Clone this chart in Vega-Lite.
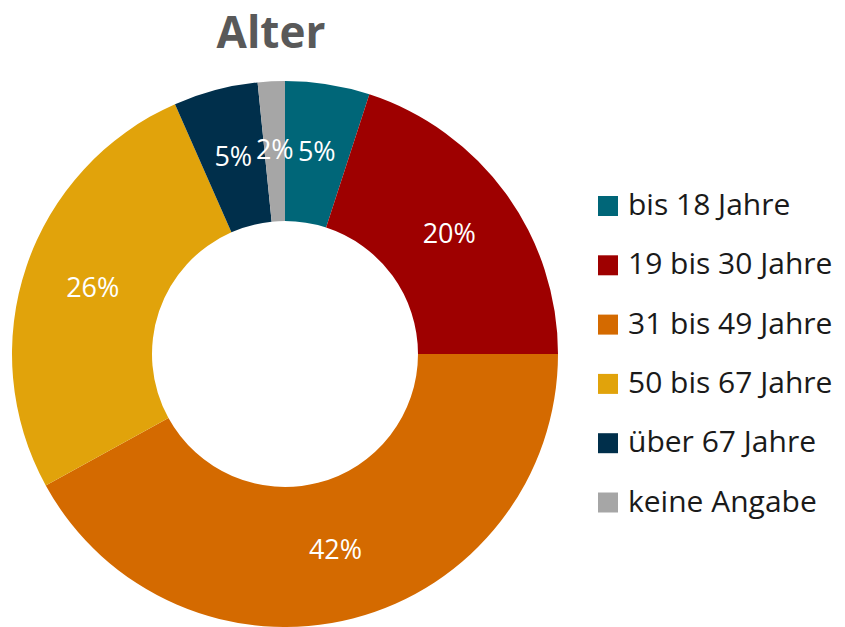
{
  "$schema": "https://vega.github.io/schema/vega-lite/v6.json",
  "width": 570,
  "height": 546,
  "autosize": {"type": "none"},
  "padding": {"left": 0, "top": 81, "right": 275, "bottom": 0},
  "background": "white",
  "title": {
    "text": "Alter",
    "font": "Open Sans",
    "fontSize": 44,
    "fontWeight": "bold",
    "color": "#595959",
    "anchor": "middle",
    "dx": -14,
    "offset": 24
  },
  "data": {
    "values": [
      {"idx": 1, "gruppe": "bis 18 Jahre", "anteil": 5.0, "label": "5%"},
      {"idx": 2, "gruppe": "19 bis 30 Jahre", "anteil": 20.0, "label": "20%"},
      {"idx": 3, "gruppe": "31 bis 49 Jahre", "anteil": 42.0, "label": "42%"},
      {"idx": 4, "gruppe": "50 bis 67 Jahre", "anteil": 26.4, "label": "26%"},
      {"idx": 5, "gruppe": "über 67 Jahre", "anteil": 5.0, "label": "5%"},
      {"idx": 6, "gruppe": "keine Angabe", "anteil": 1.6, "label": "2%"}
    ]
  },
  "encoding": {
    "theta": {"field": "anteil", "type": "quantitative", "stack": true},
    "order": {"field": "idx", "type": "quantitative"}
  },
  "layer": [
    {
      "mark": {"type": "arc", "outerRadius": 273, "innerRadius": 133},
      "encoding": {
        "color": {
          "field": "gruppe",
          "type": "nominal",
          "sort": ["bis 18 Jahre", "19 bis 30 Jahre", "31 bis 49 Jahre", "50 bis 67 Jahre", "über 67 Jahre", "keine Angabe"],
          "scale": {
            "domain": ["bis 18 Jahre", "19 bis 30 Jahre", "31 bis 49 Jahre", "50 bis 67 Jahre", "über 67 Jahre", "keine Angabe"],
            "range": ["#006678", "#9E0000", "#D46A00", "#E1A30B", "#002F4B", "#A6A6A6"]
          },
          "legend": {
            "title": null,
            "orient": "none",
            "legendX": 593,
            "legendY": 110,
            "symbolType": "square",
            "symbolSize": 400,
            "symbolStrokeWidth": 0,
            "labelFont": "Open Sans",
            "labelFontSize": 30,
            "labelColor": "#1a1a1a",
            "labelOffset": 5,
            "labelLimit": 300,
            "rowPadding": 29.3
          }
        }
      }
    },
    {
      "mark": {"type": "text", "radius": 203, "font": "Open Sans", "fontSize": 27, "fill": "white"},
      "encoding": {
        "text": {"field": "label", "type": "nominal"}
      }
    }
  ]
}
